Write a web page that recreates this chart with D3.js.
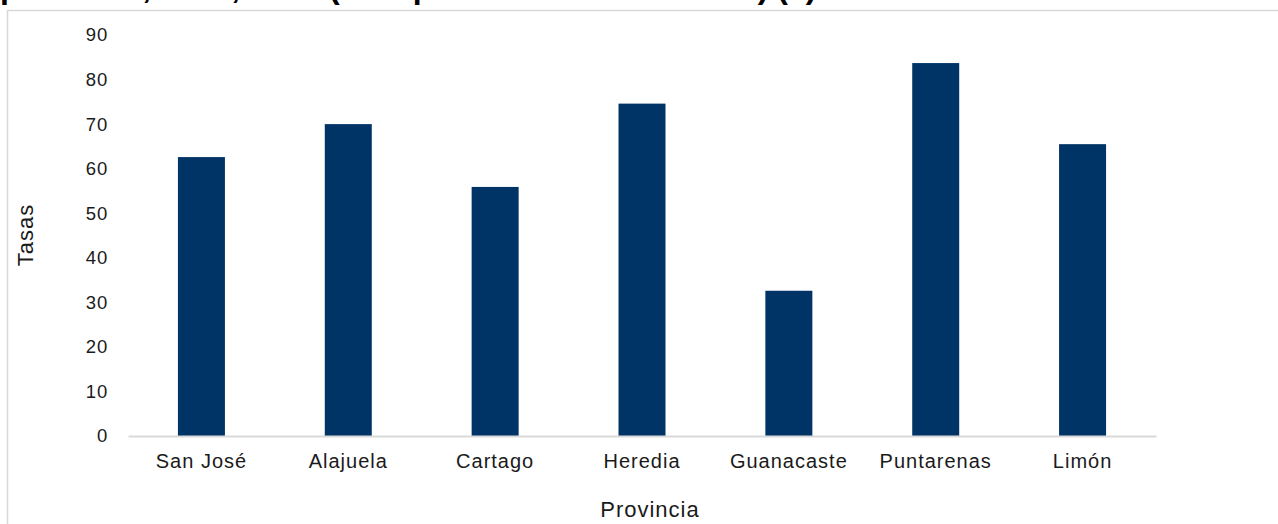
<!DOCTYPE html>
<html><head><meta charset="utf-8">
<script src="https://cdn.jsdelivr.net/npm/d3@7/dist/d3.min.js"></script>
<style>html,body{margin:0;padding:0;background:#fff;overflow:hidden}svg{display:block}</style>
</head><body>
<script>
const provincias = ["San José","Alajuela","Cartago","Heredia","Guanacaste","Puntarenas","Limón"];
const tasas = [62.6, 70.0, 55.9, 74.6, 32.6, 83.7, 65.5];
const yTicks = [0,10,20,30,40,50,60,70,80,90];
const titulo = "provincia, 2019, 2020 (tasa por 100 000 habitantes) (1)";
const yTitulo = "Tasas";
const xTitulo = "Provincia";

const W = 1278, H = 524;
const svg = d3.select("body").append("svg").attr("width", W).attr("height", H);
const font = "'Liberation Sans', Arial, sans-serif";

// title, mostly above the visible frame (only descenders show)
svg.append("text").attr("x", 0).attr("y", -2).attr("font-family", font)
  .attr("font-weight", "bold").attr("font-size", 32).attr("fill", "#000").text(titulo);

// chart border
svg.append("rect").attr("x", 7.5).attr("y", 10.5).attr("width", W + 20).attr("height", H + 20)
  .attr("fill", "none").attr("stroke", "#d9d9d9").attr("stroke-width", 1.5);

const m = {left: 128, right: 1156, top: 35, bottom: 436};
const x = d3.scaleBand().domain(provincias).range([m.left, m.right]).paddingInner(0.68).paddingOuter(0.34);
const y = d3.scaleLinear().domain([0, 90]).range([m.bottom, m.top]);

svg.append("g").selectAll("rect").data(provincias).join("rect")
  .attr("x", d => x(d)).attr("width", x.bandwidth())
  .attr("y", (d, i) => y(tasas[i])).attr("height", (d, i) => y(0) - y(tasas[i]))
  .attr("fill", "#003366");

// y axis labels
const ya = svg.append("g").attr("transform", `translate(${m.left},0)`)
  .call(d3.axisLeft(y).tickValues(yTicks).tickSize(0).tickPadding(20));
ya.select(".domain").remove();
ya.selectAll("text").attr("font-family", font).attr("font-size", 18.5)
  .attr("letter-spacing", 0.8).attr("fill", "#1a1a1a");

// x axis
const xa = svg.append("g").attr("transform", `translate(0,${m.bottom})`)
  .call(d3.axisBottom(x).tickSize(0).tickPadding(18));
xa.select(".domain").attr("stroke", "#d9d9d9").attr("stroke-width", 2);
xa.selectAll("text").attr("font-family", font).attr("font-size", 20)
  .attr("letter-spacing", 1).attr("fill", "#1a1a1a");

svg.append("text").attr("x", (m.left + m.right) / 2 + 8).attr("y", 517)
  .attr("text-anchor", "middle").attr("font-family", font).attr("font-size", 22)
  .attr("letter-spacing", 1).attr("fill", "#1a1a1a").text(xTitulo);
svg.append("text").attr("transform", `translate(33,235) rotate(-90)`)
  .attr("text-anchor", "middle").attr("font-family", font).attr("font-size", 22)
  .attr("letter-spacing", 1).attr("fill", "#1a1a1a").text(yTitulo);
</script>
</body></html>
